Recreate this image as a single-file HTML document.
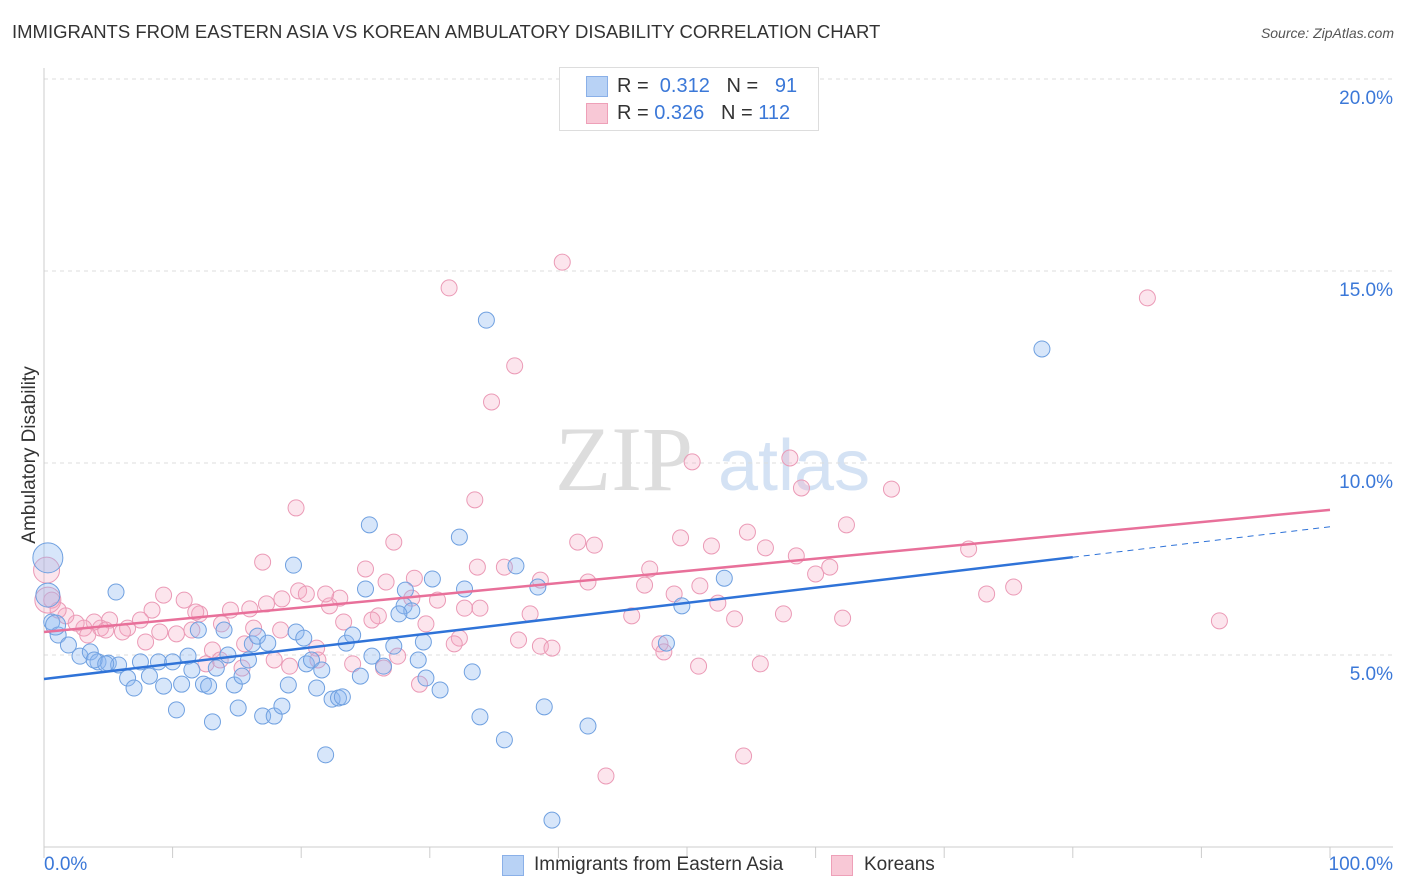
<!DOCTYPE html>
<html><head><meta charset="utf-8"><style>
body{margin:0;background:#fff;font-family:"Liberation Sans",sans-serif;}
#wrap{position:relative;width:1406px;height:892px;overflow:hidden;}
.t{position:absolute;white-space:nowrap;}
</style></head><body>
<div id="wrap">
<div class="t" style="left:12px;top:21px;font-size:18.5px;color:#333;">IMMIGRANTS FROM EASTERN ASIA VS KOREAN AMBULATORY DISABILITY CORRELATION CHART</div>
<div class="t" style="right:12px;top:25px;font-size:14px;color:#555;font-style:italic;">Source: ZipAtlas.com</div>
<div class="t" style="left:-70px;top:444px;font-size:19px;color:#333;transform:rotate(-90deg);width:200px;text-align:center;">Ambulatory Disability</div>
<svg id="svg" width="1406" height="892" style="position:absolute;left:0;top:0"></svg>
<div style="position:absolute;left:559px;top:67px;width:258px;height:62px;border:1px solid #ddd;background:#fff;font-size:20px;color:#333;">
 <div style="position:absolute;left:26px;top:8px;width:20px;height:19px;background:#b8d2f5;border:1px solid #8ab0e8;"></div>
 <div class="t" style="left:57px;top:7px;">R = &nbsp;<span style="color:#3b78d8">0.312</span> &nbsp; N = &nbsp; <span style="color:#3b78d8">91</span></div>
 <div style="position:absolute;left:26px;top:35px;width:20px;height:19px;background:#f8c8d6;border:1px solid #eea0b8;"></div>
 <div class="t" style="left:57px;top:34px;">R = <span style="color:#3b78d8">0.326</span> &nbsp; N = <span style="color:#3b78d8">112</span></div>
</div>
<div style="position:absolute;left:502px;top:853px;font-size:19px;color:#333;">
 <span style="position:absolute;left:0;top:2px;width:20px;height:19px;background:#b8d2f5;border:1px solid #8ab0e8;"></span>
 <span class="t" style="left:32px;top:1px;">Immigrants from Eastern Asia</span>
 <span style="position:absolute;left:329px;top:2px;width:20px;height:19px;background:#f8c8d6;border:1px solid #eea0b8;"></span>
 <span class="t" style="left:362px;top:1px;">Koreans</span>
</div>
</div>
<script>
const yTicks=[5,10,15,20];
const yTickLabels=["5.0%","10.0%","15.0%","20.0%"];
const xLabels=["0.0%","100.0%"];
const blueX=[34.4,77.6,25.3,32.3,19.4,36.7,0.3,5.6,52.9,30.2,32.7,25.0,28.1,28.0,28.6,27.6,38.4,49.6,0.6,1.1,1.9,2.8,3.6,4.2,5.0,5.8,6.5,7.0,7.5,8.2,8.9,9.3,10.0,10.3,10.7,11.2,11.5,12.0,12.4,12.8,13.1,13.4,14.0,14.3,14.8,15.1,15.4,15.9,16.2,16.6,17.0,17.4,17.9,18.5,19.0,19.6,20.2,20.4,20.8,21.2,21.6,21.9,22.4,22.9,23.2,23.5,24.0,24.6,25.5,26.4,27.2,29.1,29.5,29.7,30.8,33.3,33.9,35.8,38.9,39.5,42.3,48.4,0.3,0.9,3.9,4.8];
const blueY=[13.72,12.97,8.39,8.07,7.34,7.32,7.53,6.64,7.0,6.98,6.72,6.72,6.69,6.28,6.15,6.07,6.77,6.28,5.86,5.52,5.26,4.97,5.08,4.82,4.79,4.74,4.40,4.14,4.82,4.45,4.82,4.19,4.82,3.57,4.24,4.97,4.61,5.65,4.24,4.19,3.26,4.66,5.65,5.0,4.22,3.62,4.45,4.87,5.29,5.49,3.41,5.31,3.41,3.67,4.22,5.6,5.44,4.77,4.87,4.14,4.61,2.40,3.85,3.88,3.91,5.31,5.52,4.45,4.97,4.71,5.23,4.87,5.34,4.40,4.09,4.56,3.39,2.79,3.65,0.70,3.15,5.31,6.56,5.78,4.87,4.77];
const blueR=[8,8,8,8,8,8,15,8,8,8,8,8,8,8,8,8,8,8,8,8,8,8,8,8,8,8,8,8,8,8,8,8,8,8,8,8,8,8,8,8,8,8,8,8,8,8,8,8,8,8,8,8,8,8,8,8,8,8,8,8,8,8,8,8,8,8,8,8,8,8,8,8,8,8,8,8,8,8,8,8,8,8,12,10,8,8];
const pinkX=[40.3,31.5,85.8,36.6,34.8,50.4,58.0,58.9,65.9,33.5,19.6,62.4,54.7,41.5,42.8,49.5,51.9,56.1,71.9,27.2,17.0,25.0,35.8,38.6,33.7,47.1,58.5,61.1,60.0,42.3,46.7,49.0,51.0,75.4,73.3,52.4,57.5,62.1,53.7,91.4,45.7,37.8,33.9,32.7,30.6,28.6,26.6,28.8,23.0,22.2,26.0,25.5,23.3,19.8,20.4,21.9,18.5,17.3,16.0,14.5,13.8,12.1,11.8,10.9,9.3,8.4,7.5,6.5,6.1,5.1,4.4,3.9,3.1,2.5,1.7,1.1,0.6,0.2,0.3,3.4,4.8,7.9,9.0,10.3,11.5,13.1,13.7,15.4,16.3,17.9,18.4,19.1,21.2,21.3,24.0,26.4,27.5,29.7,32.3,31.9,36.9,38.6,39.5,47.9,48.2,50.9,55.7,29.2,43.7,54.4,15.6,12.6];
const pinkY=[15.23,14.56,14.30,12.53,11.59,10.03,10.13,9.35,9.32,9.04,8.83,8.39,8.20,7.94,7.86,8.05,7.84,7.79,7.76,7.94,7.42,7.24,7.29,6.95,7.29,7.24,7.58,7.29,7.11,6.90,6.82,6.59,6.80,6.77,6.59,6.35,6.07,5.96,5.94,5.89,6.02,6.07,6.22,6.22,6.43,6.48,6.90,7.0,6.48,6.28,6.02,5.91,5.86,6.67,6.59,6.59,6.46,6.33,6.20,6.17,5.81,6.07,6.12,6.43,6.56,6.17,5.91,5.70,5.60,5.91,5.70,5.86,5.70,5.83,6.02,6.17,6.43,7.21,6.43,5.52,5.65,5.34,5.60,5.55,5.65,5.13,4.87,4.66,5.70,4.87,5.65,4.71,5.18,4.87,4.77,4.66,4.97,5.81,5.44,5.29,5.39,5.23,5.18,5.29,5.08,4.71,4.77,4.24,1.85,2.37,5.29,4.77];
const blueTrend=[4.375,8.34];
const pinkTrend=[5.6,8.78];

const X0=44,X1=1330,Y0=847,PX=38.4;
const sx=v=>X0+(X1-X0)*v/100;
const sy=v=>Y0-v*PX;
const svg=document.getElementById('svg');
const NS='http://www.w3.org/2000/svg';
function mk(tag,attrs){const e=document.createElementNS(NS,tag);for(const k in attrs)e.setAttribute(k,attrs[k]);svg.appendChild(e);return e;}
let w=mk('text',{x:555,y:490,'font-size':92,'font-family':'Liberation Serif,serif',fill:'#ddd'});w.textContent='ZIP';


let w2=mk('text',{x:718,y:490,'font-size':72,'font-family':'Liberation Sans,sans-serif',fill:'#d4e2f4'});w2.textContent='atlas';


yTicks.forEach((t,i)=>{
 const g=mk('line',{x1:X0,x2:1393,y1:sy(t),y2:sy(t),stroke:'#ddd','stroke-dasharray':'4,4'});
 
 
 const l=mk('text',{x:1393,y:sy(t)+25,'text-anchor':'end','font-size':19,fill:'#3b78d8','font-family':'Liberation Sans,sans-serif'});
 l.textContent=yTickLabels[i];
 
 
});
let ax=mk('line',{x1:X0,x2:X0,y1:68,y2:Y0,stroke:'#ccc'});


let bx=mk('line',{x1:X0,x2:1393,y1:Y0,y2:Y0,stroke:'#ccc'});


for(let i=0;i<=10;i++){const tk=mk('line',{x1:sx(i*10),x2:sx(i*10),y1:Y0,y2:Y0+11,stroke:'#ccc'});
 
 }
[[0,'start',44],[100,'end',1393]].forEach((a,i)=>{const t=mk('text',{x:a[2],y:870,'text-anchor':a[1],'font-size':19,fill:'#3b78d8','font-family':'Liberation Sans,sans-serif'});t.textContent=xLabels[i];
 
 });
function dots(xs,ys,rs,fill,stroke,name){xs.forEach((x,i)=>{const c=mk('circle',{cx:sx(x),cy:sy(ys[i]),r:rs?rs[i]:(x<0.5&&name==='pink-point'?13:8),fill:fill,stroke:stroke,'stroke-width':1});
 
 });}
dots(pinkX,pinkY,null,'rgba(244,170,195,0.3)','#eb9ab6','pink-point');
dots(blueX,blueY,blueR,'rgba(140,182,240,0.35)','#6fa0e0','blue-point');
let bl=mk('line',{x1:sx(0),y1:sy(blueTrend[0]),x2:sx(80),y2:sy(blueTrend[0]+(blueTrend[1]-blueTrend[0])*0.8),stroke:'#2f73d8','stroke-width':2.5});


let bd=mk('line',{x1:sx(80),y1:sy(blueTrend[0]+(blueTrend[1]-blueTrend[0])*0.8),x2:sx(100),y2:sy(blueTrend[1]),stroke:'#2f73d8','stroke-width':1,'stroke-dasharray':'6,5'});


let pl=mk('line',{x1:sx(0),y1:sy(pinkTrend[0]),x2:sx(100),y2:sy(pinkTrend[1]),stroke:'#e8709a','stroke-width':2.5});


</script>
</body></html>
